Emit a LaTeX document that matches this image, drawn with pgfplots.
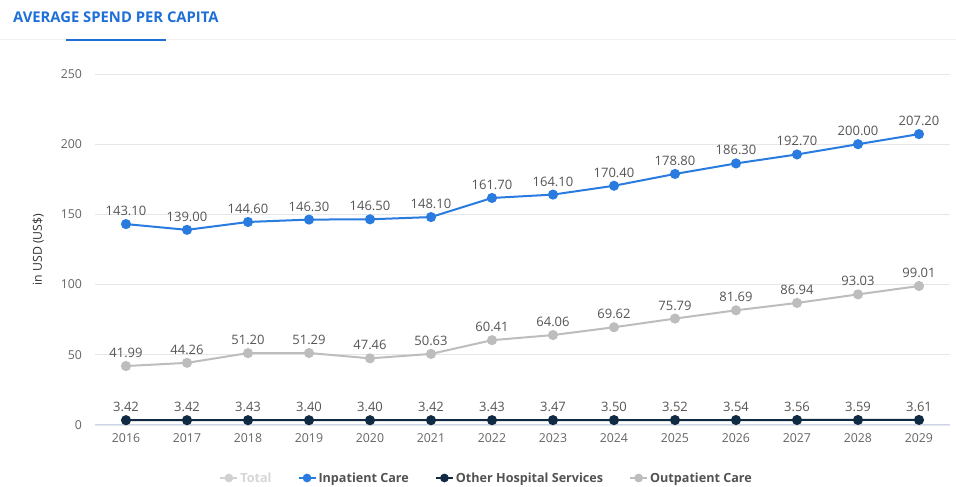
\documentclass[border=0pt]{standalone}
\usepackage{pgfplots}
\pgfplotsset{compat=1.18}
\usepackage{fontspec}
\setmainfont{Open Sans}
\definecolor{titleblue}{HTML}{1F6FD8}
\definecolor{inblue}{HTML}{2A7BE0}
\definecolor{navy}{HTML}{102A43}
\definecolor{outgray}{HTML}{BDBDBD}
\definecolor{gridc}{HTML}{E6E6E6}
\definecolor{axisc}{HTML}{CCD6EB}
\definecolor{tickc}{HTML}{666666}
\definecolor{labc}{HTML}{555555}
\definecolor{legc}{HTML}{333333}
\begin{document}
\begin{tikzpicture}[x=1pt,y=1pt]
\path[use as bounding box] (0,0) rectangle (956,487);
\fill[white] (0,0) rectangle (956,487);
\draw[gridc!60,line width=1pt] (0,447) -- (956,447);
\draw[titleblue,line width=2pt] (66,447) -- (166,447);
\node[anchor=west,text=titleblue,font=\fontsize{14.8}{17}\selectfont\bfseries,inner sep=0] at (13,470) {AVERAGE SPEND PER CAPITA};
\begin{axis}[
  at={(95.5pt,62pt)}, anchor=south west,
  scale only axis, width=854pt, height=351pt,
  xmin=2015.5, xmax=2029.5, ymin=0, ymax=250,
  xtick={2016,...,2029}, ytick={0,50,...,250},
  /pgf/number format/assume math mode=true,
  xticklabel={\pgfmathprintnumber[1000 sep=]{\tick}},
  major tick length=0pt,
  axis x line*=bottom, axis y line*=left,
  x axis line style={draw=axisc,line width=1pt,-},
  y axis line style={draw=none},
  ymajorgrids, grid style={gridc,line width=0.8pt},
  ticklabel style={font=\fontsize{12.3}{14}\selectfont, text=tickc},
  yticklabel style={xshift=-10pt},
  xticklabel style={yshift=-5pt},
  ylabel={in USD (US\$)},
  ylabel style={at={(axis description cs:-0.067,0.5)}, anchor=center, font=\fontsize{12.3}{14}\selectfont, text=legc},
  clip=false,
  nodes near coords,
  every node near coord/.append style={font=\fontsize{13}{15}\selectfont, text=labc, yshift=4pt,
    /pgf/number format/.cd, fixed, fixed zerofill, precision=2, 1000 sep=},
  legend columns=4,
  legend style={at={(axis description cs:0.458,-0.151)}, anchor=center, draw=none, fill=none,
    font=\fontsize{12.6}{14}\selectfont\bfseries, text=legc!85, /tikz/every even column/.append style={column sep=24pt}},
  legend cell align=left,
  legend image code/.code={\draw[#1] (0pt,0pt) -- (17pt,0pt); \draw[#1,mark size=3.3pt] plot coordinates {(8.5pt,0pt)};},
]
\addlegendimage{color=gridc!50!outgray, line width=2pt, mark=*, mark options={solid}}
\addlegendentry{\textcolor{gridc!60!outgray}{Total}}
\addplot[color=inblue, line width=2pt, mark=*, mark size=4pt] coordinates {
(2016,143.10) (2017,139.00) (2018,144.60) (2019,146.30) (2020,146.50) (2021,148.10) (2022,161.70)
(2023,164.10) (2024,170.40) (2025,178.80) (2026,186.30) (2027,192.70) (2028,200.00) (2029,207.20)};
\addlegendentry{Inpatient Care}
\addplot[color=navy, line width=2pt, mark=*, mark size=4pt] coordinates {
(2016,3.42) (2017,3.42) (2018,3.43) (2019,3.40) (2020,3.40) (2021,3.42) (2022,3.43)
(2023,3.47) (2024,3.50) (2025,3.52) (2026,3.54) (2027,3.56) (2028,3.59) (2029,3.61)};
\addlegendentry{Other Hospital Services}
\addplot[color=outgray, line width=2pt, mark=*, mark size=4pt] coordinates {
(2016,41.99) (2017,44.26) (2018,51.20) (2019,51.29) (2020,47.46) (2021,50.63) (2022,60.41)
(2023,64.06) (2024,69.62) (2025,75.79) (2026,81.69) (2027,86.94) (2028,93.03) (2029,99.01)};
\addlegendentry{Outpatient Care}
\end{axis}
\end{tikzpicture}
\end{document}
